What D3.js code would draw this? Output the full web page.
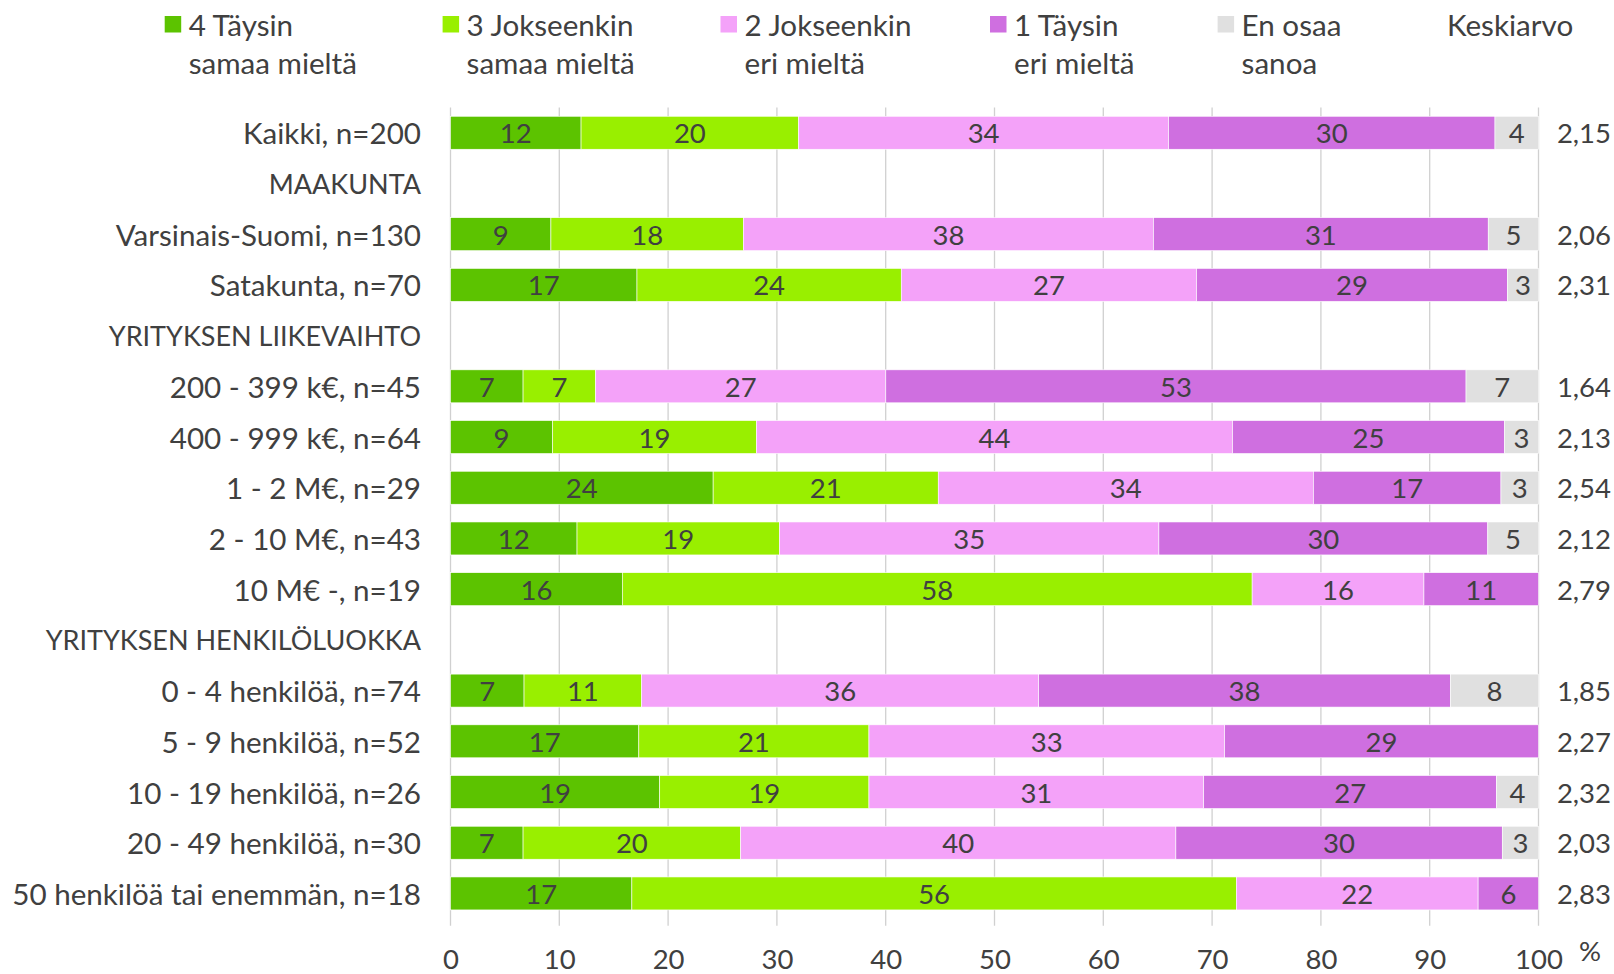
<!DOCTYPE html>
<html>
<head>
<meta charset="utf-8">
<script src="https://cdn.jsdelivr.net/npm/d3@7"></script>
<style>
  html, body { margin: 0; padding: 0; background: #ffffff; }
  svg { display: block; }
  text { font-family: Lato, "Open Sans", sans-serif; fill: #404040; }
</style>
</head>
<body>
<svg id="chart" width="1614" height="974"></svg>
<script>
// ---- data ----
const categories = [
  "Kaikki, n=200", "MAAKUNTA", "Varsinais-Suomi, n=130", "Satakunta, n=70",
  "YRITYKSEN LIIKEVAIHTO", "200 - 399 k€, n=45", "400 - 999 k€, n=64", "1 - 2 M€, n=29",
  "2 - 10 M€, n=43", "10 M€ -, n=19", "YRITYKSEN HENKILÖLUOKKA", "0 - 4 henkilöä, n=74",
  "5 - 9 henkilöä, n=52", "10 - 19 henkilöä, n=26", "20 - 49 henkilöä, n=30",
  "50 henkilöä tai enemmän, n=18"
];
const taysinSamaa     = [12.00, null, 9.23, 17.14, null, 6.67, 9.38, 24.14, 11.63, 15.79, null, 6.76, 17.31, 19.23, 6.67, 16.67];
const jokseenkinSamaa = [20.00, null, 17.69, 24.29, null, 6.67, 18.75, 20.69, 18.60, 57.89, null, 10.81, 21.15, 19.23, 20.00, 55.56];
const jokseenkinEri   = [34.00, null, 37.69, 27.14, null, 26.67, 43.75, 34.48, 34.88, 15.79, null, 36.49, 32.69, 30.77, 40.00, 22.22];
const taysinEri       = [30.00, null, 30.77, 28.57, null, 53.33, 25.00, 17.24, 30.23, 10.53, null, 37.84, 28.85, 26.92, 30.00, 5.56];
const enOsaa          = [4.00, null, 4.62, 2.86, null, 6.67, 3.13, 3.45, 4.65, 0, null, 8.11, 0, 3.85, 3.33, 0];
const keskiarvo       = [2.15, null, 2.06, 2.31, null, 1.64, 2.13, 2.54, 2.12, 2.79, null, 1.85, 2.27, 2.32, 2.03, 2.83];

const seriesNames = [
  ["4 Täysin", "samaa mieltä"],
  ["3 Jokseenkin", "samaa mieltä"],
  ["2 Jokseenkin", "eri mieltä"],
  ["1 Täysin", "eri mieltä"],
  ["En osaa", "sanoa"]
];
const seriesColors = ["#5cc300", "#99ef00", "#f4a2f9", "#cf6fe0", "#e0e0e0"];
const xTicks = [0, 10, 20, 30, 40, 50, 60, 70, 80, 90, 100];
const meanHeader = "Keskiarvo";
const unitLabel = "%";

// ---- build table ----
const keys = ["s4", "s3", "s2", "s1", "eos"];
const allSeries = [taysinSamaa, jokseenkinSamaa, jokseenkinEri, taysinEri, enOsaa];
const rows = categories.map((c, i) => {
  const r = { cat: c, header: taysinSamaa[i] === null, mean: keskiarvo[i] };
  keys.forEach((k, j) => r[k] = allSeries[j][i] === null ? 0 : allSeries[j][i]);
  return r;
});

// ---- layout ----
const svg = d3.select("#chart");
const plot = { left: 450.5, right: 1538.5, top: 107.4, bottom: 918.8 };
const x = d3.scaleLinear().domain([0, 100]).range([plot.left, plot.right]);
const y = d3.scaleBand().domain(categories).range([plot.top, plot.bottom]).paddingInner(0.35).paddingOuter(0.175);
const fsText = 29.6;   // words
const fsHead = 27;     // upper-case group headers
const fsNum = 27.5;    // numbers

// gridlines
svg.append("g").selectAll("line").data(xTicks).join("line")
  .attr("x1", d => x(d)).attr("x2", d => x(d))
  .attr("y1", plot.top).attr("y2", plot.bottom + 7)
  .attr("stroke", "#d0d0d0").attr("stroke-width", 1.3);

// bars
const stack = d3.stack().keys(keys);
const stacked = stack(rows.filter(r => !r.header));
const gBars = svg.append("g");
stacked.forEach((layer, li) => {
  const g = gBars.append("g");
  g.selectAll("rect").data(layer.filter(d => d[1] - d[0] > 0)).join("rect")
    .attr("x", d => x(d[0]))
    .attr("width", d => x(d[1]) - x(d[0]))
    .attr("y", d => y(d.data.cat))
    .attr("height", y.bandwidth())
    .attr("fill", seriesColors[li])
    .attr("stroke", "#ffffff").attr("stroke-width", 0.6);
  g.selectAll("text").data(layer.filter(d => d[1] - d[0] > 0)).join("text")
    .attr("x", d => (x(d[0]) + x(d[1])) / 2)
    .attr("y", d => y(d.data.cat) + y.bandwidth() / 2)
    .attr("text-anchor", "middle")
    .attr("dominant-baseline", "central")
    .attr("font-size", fsNum)
    .text(d => Math.round(d[1] - d[0]));
});

// category labels
svg.append("g").selectAll("text").data(rows).join("text")
  .attr("x", 421)
  .attr("y", d => y(d.cat) + y.bandwidth() / 2)
  .attr("text-anchor", "end")
  .attr("dominant-baseline", "central")
  .attr("font-size", d => d.header ? fsHead : fsText)
  .text(d => d.cat);

// means
const fmtMean = v => d3.format(".2f")(v).replace(".", ",");
svg.append("g").selectAll("text").data(rows.filter(r => r.mean !== null)).join("text")
  .attr("x", 1611)
  .attr("y", d => y(d.cat) + y.bandwidth() / 2)
  .attr("text-anchor", "end")
  .attr("dominant-baseline", "central")
  .attr("font-size", fsNum)
  .text(d => fmtMean(d.mean));

// x axis
const axis = d3.axisBottom(x).tickValues(xTicks).tickSize(0).tickPadding(0);
const gAxis = svg.append("g").attr("transform", `translate(0,${plot.bottom})`).call(axis);
gAxis.select(".domain").remove();
gAxis.selectAll("text")
  .attr("font-family", "Lato, 'Open Sans', sans-serif")
  .attr("font-size", fsNum)
  .attr("fill", "#404040")
  .attr("y", 40)
  .attr("dy", null)
  .attr("dominant-baseline", "central");
svg.append("text").attr("x", 1590).attr("y", 950)
  .attr("text-anchor", "middle").attr("dominant-baseline", "central")
  .attr("font-size", fsNum).text(unitLabel);

// legend
const legendX = [164.7, 442.6, 720.5, 990, 1217.6];
const lg = svg.append("g");
seriesNames.forEach((nm, i) => {
  lg.append("rect").attr("x", legendX[i]).attr("y", 16).attr("width", 16.5).attr("height", 16.5)
    .attr("fill", seriesColors[i]);
  lg.append("text").attr("x", legendX[i] + 24).attr("y", 24)
    .attr("dominant-baseline", "central").attr("font-size", fsText).text(nm[0]);
  lg.append("text").attr("x", legendX[i] + 24).attr("y", 62.5)
    .attr("dominant-baseline", "central").attr("font-size", fsText).text(nm[1]);
});
lg.append("text").attr("x", 1447).attr("y", 24)
  .attr("dominant-baseline", "central").attr("font-size", fsText).text(meanHeader);
</script>
</body>
</html>
